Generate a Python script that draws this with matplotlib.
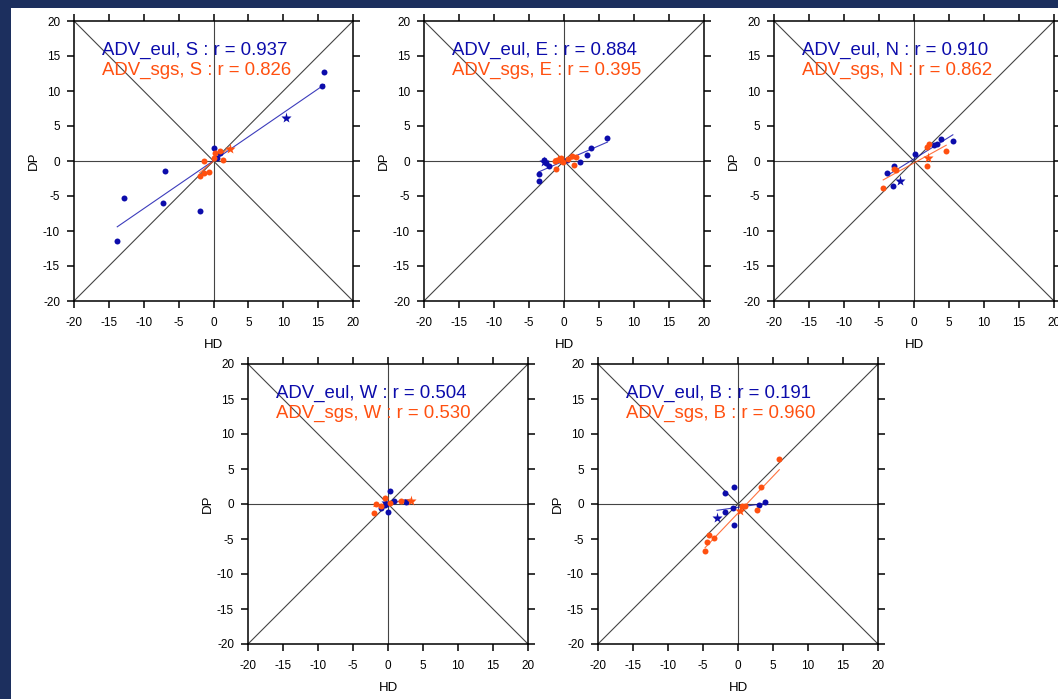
import numpy as np
import matplotlib
matplotlib.use('Agg')
from matplotlib import pyplot as plt
from matplotlib.patches import Rectangle

plt.rcParams['font.family'] = ['Liberation Sans', 'DejaVu Sans']
plt.rcParams['axes.unicode_minus'] = False

# panel names and correlations
names = ['S', 'E', 'N', 'W', 'B']
r_eul = ['0.937', '0.884', '0.910', '0.504', '0.191']
r_sgs = ['0.826', '0.395', '0.862', '0.530', '0.960']

# ADV_eul points (HD, DP)
eul_x = [
    [15.9, 15.6, -6.9, -12.9, -7.2, -1.9, -13.8, 0.1, 0.5, 1.0],
    [6.2, 3.8, 3.35, 2.25, -3.6, -3.6, -2.9, -2.6, -2.15, 0.4],
    [5.55, 3.8, 3.35, 2.9, 0.1, -2.9, -3.8, -3.0],
    [0.24, 0.0, 2.5, -1.0, -0.5, 0.8],
    [-0.57, -1.87, -1.8, -0.7, -0.62, 3.06, 3.9],
]
eul_y = [
    [12.7, 10.7, -1.4, -5.3, -6.0, -7.1, -11.4, 1.8, 0.5, 1.2],
    [3.35, 1.8, 0.8, -0.15, -1.8, -2.9, 0.1, -0.3, -0.7, 0.2],
    [2.9, 3.1, 2.4, 2.25, 1.05, -0.7, -1.7, -3.6],
    [1.87, -1.15, 0.3, -0.5, -0.2, 0.4],
    [2.5, 1.63, -1.2, -0.5, -3.0, -0.14, 0.24],
]
eul_star = [(10.4, 6.2), (-2.8, -0.2), (-2.0, -2.8), (-0.3, 0.1), (-3.0, -2.06)]

# ADV_sgs points (HD, DP)
sgs_x = [
    [-1.3, 1.4, 0.2, 0.9, -2.0, -1.4, -0.7, 0.1],
    [-1.3, -1.0, -0.5, 0.5, 1.2, 1.7, 1.4, -1.15, -0.2],
    [4.6, 1.9, 2.15, 1.8, -2.9, -2.6, -4.4],
    [-2.0, -1.7, -0.5, 1.8, -1.0, 0.3],
    [5.9, 3.25, 2.7, 0.5, 0.95, -4.2, -4.4, -3.45, -4.7],
]
sgs_y = [
    [0.0, 0.2, 1.1, 1.4, -2.2, -1.7, -1.5, 0.5],
    [0.0, 0.2, 0.5, 0.3, 0.7, 0.6, -0.5, -1.1, -0.2],
    [1.5, 2.0, 2.4, -0.7, -1.2, -1.3, -3.9],
    [-1.25, 0.05, 0.9, 0.5, -0.3, 0.1],
    [6.4, 2.5, -0.9, -0.3, -0.3, -4.4, -5.4, -4.9, -6.75],
]
sgs_star = [(2.3, 1.7), (-0.8, 0.2), (2.0, 0.4), (3.25, 0.43), (0.33, -1.0)]

# regression fits (slope, intercept)
eul_fit = [(0.684, 0.04), (0.434, 0.01), (0.62, 0.3), (0.25, 0.0), (0.145, -0.47)]
sgs_fit = [(0.85, 0.0), (0.25, 0.0), (0.55, -0.28), (0.2, 0.05), (1.05, -1.3)]

blue = '#0c0cab'
orange = '#ff5010'
navy = '#1c2f5e'

# axes boxes in pixels: left, top, right, bottom
boxes = [(74, 21, 353, 301), (424, 21, 704, 301), (774, 21, 1054, 301),
         (248, 364, 528, 644), (598, 364, 878, 644)]

W, H = 1058, 699
fig = plt.figure(figsize=(W / 100, H / 100), dpi=100)
fig.patch.set_facecolor(navy)
fig.patches.append(Rectangle((11 / W, 0), 1, 1 - 8 / H, transform=fig.transFigure,
                             facecolor='white', edgecolor='none', zorder=-10))

for i in range(5):
    l, t, r, b = boxes[i]
    ax = fig.add_axes([l / W, 1 - b / H, (r - l) / W, (b - t) / H])
    ax.set_zorder(1)
    ax.set_xlim(-20, 20)
    ax.set_ylim(-20, 20)
    ax.set_xticks(range(-20, 21, 5))
    ax.set_yticks(range(-20, 21, 5))
    ax.tick_params(direction='out', length=5, width=1.1, labelsize=8.5,
                   top=True, right=True, pad=5)
    ax.tick_params(axis='x', pad=6.5)
    for s in ax.spines.values():
        s.set_linewidth(1.1)

    # reference lines
    ax.plot([-20, 20], [-20, 20], color='#444444', lw=0.8, zorder=1)
    ax.plot([-20, 20], [20, -20], color='#444444', lw=0.8, zorder=1)
    ax.axhline(0, color='#444444', lw=0.8, zorder=1)
    ax.axvline(0, color='#444444', lw=0.8, zorder=1)

    # fits
    xe = np.array([min(eul_x[i] + [eul_star[i][0]]), max(eul_x[i] + [eul_star[i][0]])])
    ax.plot(xe, eul_fit[i][0] * xe + eul_fit[i][1], color=blue, lw=0.8, alpha=0.8, zorder=2)
    xs = np.array([min(sgs_x[i] + [sgs_star[i][0]]), max(sgs_x[i] + [sgs_star[i][0]])])
    ax.plot(xs, sgs_fit[i][0] * xs + sgs_fit[i][1], color=orange, lw=0.8, alpha=0.8, zorder=2)

    ax.plot(eul_x[i], eul_y[i], 'o', color=blue, ms=4.3, mec='none', zorder=3)
    ax.plot(*eul_star[i], '*', color=blue, ms=8, mec='none', zorder=3)
    ax.plot(sgs_x[i], sgs_y[i], 'o', color=orange, ms=4.3, mec='none', zorder=4)
    ax.plot(*sgs_star[i], '*', color=orange, ms=8, mec='none', zorder=4)

    ax.text(-16, 15.1, 'ADV_eul, {} : r = {}'.format(names[i], r_eul[i]),
            color=blue, fontsize=13.4, va='baseline', ha='left', zorder=5)
    ax.text(-16, 12.3, 'ADV_sgs, {} : r = {}'.format(names[i], r_sgs[i]),
            color=orange, fontsize=13.4, va='baseline', ha='left', zorder=5)

    ax.set_xlabel('HD', fontsize=9.5, labelpad=7)
    ax.set_ylabel('DP', fontsize=9.5, labelpad=2)

fig.savefig('out.png', dpi=100, facecolor=fig.get_facecolor())
